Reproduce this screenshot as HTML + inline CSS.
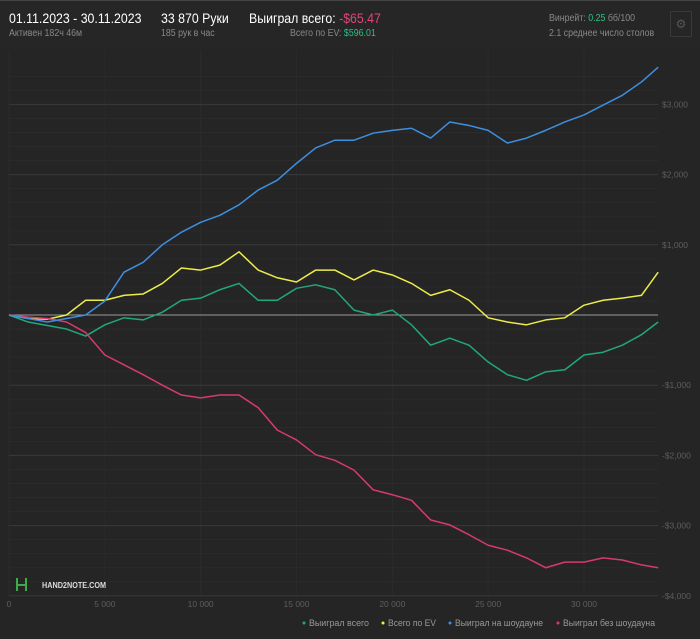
<!DOCTYPE html>
<html><head><meta charset="utf-8"><style>
body{margin:0;background:#252526;width:700px;height:639px;overflow:hidden;font-family:"Liberation Sans","DejaVu Sans",sans-serif;}
.hd{position:absolute;top:0;left:0;width:700px;height:46px;background:#262627;border-top:1px solid #444;}
.t{position:absolute;white-space:nowrap;transform:scaleX(0.88);transform-origin:0 0;}
</style></head><body>
<div class="hd">
<div class="t" style="left:9px;top:9px;font-size:14px;color:#fff">01.11.2023 - 30.11.2023</div>
<div class="t" style="left:9px;top:27px;font-size:10px;color:#888">Активен 182ч 46м</div>
<div class="t" style="left:161px;top:9px;font-size:14px;color:#fff">33 870 Руки</div>
<div class="t" style="left:161px;top:27px;font-size:10px;color:#888">185 рук в час</div>
<div class="t" style="left:249px;top:9px;font-size:14px;color:#fff">Выиграл всего: <span style="color:#e0457b">-$65.47</span></div>
<div class="t" style="left:290px;top:27px;font-size:10px;color:#888">Всего по EV: <span style="color:#2fbf83">$596.01</span></div>
<div class="t" style="left:549px;top:12px;font-size:10px;color:#888">Винрейт: <span style="color:#2fbf83">0.25</span> бб/100</div>
<div class="t" style="left:549px;top:27px;font-size:10px;color:#888">2.1 среднее число столов</div>
<div style="position:absolute;left:670px;top:10px;width:20px;height:24px;border:1px solid #3a3a3a;border-radius:2px;color:#555;font-size:12px;text-align:center;line-height:24px">⚙</div>
</div>
<svg id="c" width="700" height="639" style="position:absolute;top:0;left:0"></svg>
<script>
const hands=[0,1000,2000,3000,4000,5000,6000,7000,8000,9000,10000,11000,12000,13000,14000,15000,16000,17000,18000,19000,20000,21000,22000,23000,24000,25000,26000,27000,28000,29000,30000,31000,32000,33000,33870];
const blueVals=[0,-50,-100,-50,0,200,610,750,1000,1180,1320,1420,1570,1780,1920,2160,2380,2490,2490,2590,2630,2660,2520,2750,2700,2630,2450,2520,2630,2750,2850,2990,3130,3320,3530];
const yellowVals=[0,-50,-60,0,210,210,280,300,450,670,640,710,900,640,530,470,640,640,500,640,570,450,280,360,210,-40,-100,-140,-70,-40,140,210,240,280,610];
const greenVals=[0,-100,-150,-200,-300,-140,-40,-70,40,210,240,360,450,210,210,380,430,360,70,0,70,-140,-430,-330,-430,-670,-850,-930,-810,-780,-570,-530,-430,-280,-100];
const pinkVals=[0,-30,-50,-100,-250,-570,-710,-850,-1000,-1140,-1180,-1140,-1140,-1320,-1640,-1780,-1990,-2070,-2210,-2490,-2560,-2640,-2920,-2990,-3130,-3280,-3350,-3460,-3600,-3520,-3520,-3460,-3490,-3560,-3600];
const xTicks=[0,5000,10000,15000,20000,25000,30000];
const xTickLabels=["0","5 000","10 000","15 000","20 000","25 000","30 000"];
const yTicks=[3000,2000,1000,0,-1000,-2000,-3000,-4000];
const yTickLabels=["$3,000","$2,000","$1,000","$0","-$1,000","-$2,000","-$3,000","-$4,000"];
const legendLabels=["Выиграл всего","Всего по EV","Выиграл на шоудауне","Выиграл без шоудауна"];
const X=v=>9+v*0.019167, Y=v=>315-v*0.0702;
const svg=document.getElementById('c'),NS='http://www.w3.org/2000/svg';
function mk(t,a,p){const e=document.createElementNS(NS,t);for(const k in a)e.setAttribute(k,a[k]);(p||svg).appendChild(e);return e;}
for(let v=-4000;v<=3400;v+=200){if(v%1000===0)continue;const l=mk('line',{x1:9,x2:658,y1:Y(v),y2:Y(v),stroke:'#2b2b2c','stroke-width':1});

}
xTicks.forEach((v,i)=>{const l=mk('line',{x1:X(v),x2:X(v),y1:50,y2:595,stroke:'#2b2b2c'});


const t=mk('text',{x:X(v),y:607,fill:'#5e5e5e','font-size':8.5,'text-anchor':'middle'});t.textContent=xTickLabels[i];

});
yTicks.forEach((v,i)=>{const l=mk('line',{x1:9,x2:658,y1:Y(v),y2:Y(v),stroke:v===0?'#9a9a9a':'#3a3a3b','stroke-width':1});


if(v!==0){const t=mk('text',{x:662,y:Y(v)+3,fill:'#5e5e5e','font-size':8.5});t.textContent=yTickLabels[i];

}});
const series=[[greenVals,'#21a87a','series-total'],[yellowVals,'#ecec4a','series-ev'],[pinkVals,'#d8396f','series-no-showdown'],[blueVals,'#3d8fe0','series-showdown']];
series.forEach(s=>{const p=mk('polyline',{points:hands.map((h,i)=>X(h)+','+Y(s[0][i])).join(' '),fill:'none',stroke:s[1],'stroke-width':1.5,'stroke-linejoin':'round'});

});
const lg=mk('g',{});


const lx=[304,383,450,558],lw=[60,48,88,92],lc=['#21a87a','#ecec4a','#3d8fe0','#d8396f'];
legendLabels.forEach((n,i)=>{const c=mk('circle',{cx:lx[i],cy:623,r:1.5,fill:lc[i]},lg);


const t=mk('text',{x:lx[i]+5,y:626,fill:'#999','font-size':9,textLength:lw[i],lengthAdjust:'spacingAndGlyphs'},lg);t.textContent=n;

});
const logo=mk('text',{x:42,y:588,fill:'#ddd','font-size':8,'font-weight':'bold',textLength:64,lengthAdjust:'spacingAndGlyphs'});logo.textContent='HAND2NOTE.COM';


const lm=mk('path',{d:'M17 578v13M26 578v13M17 585h9',stroke:'#3cab4a','stroke-width':2,fill:'none'});


</script>
</body></html>
